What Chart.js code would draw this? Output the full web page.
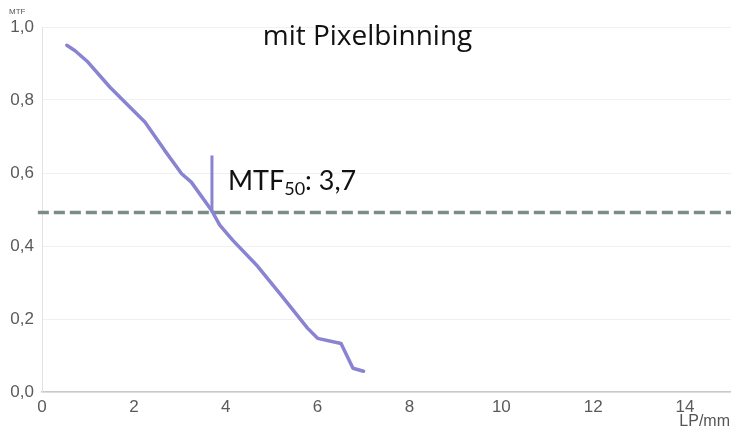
<!DOCTYPE html>
<html>
<head>
<meta charset="utf-8">
<script src="https://cdn.jsdelivr.net/npm/chart.js@4"></script>
<style>
html,body{margin:0;padding:0;background:#fff;}
#wrap{width:731px;height:430px;position:relative;}
</style>
</head>
<body>
<div id="wrap"><canvas id="c" width="731" height="430"></canvas></div>
<script>
// Data
const lpPerMm = [0.54, 0.72, 1.0, 1.48, 1.84, 2.24, 2.67, 3.04, 3.25, 3.69, 3.87, 4.15, 4.69, 5.21, 5.78, 6.0, 6.51, 6.77, 7.0];
const mtf     = [0.95, 0.935, 0.904, 0.835, 0.79, 0.74, 0.662, 0.598, 0.575, 0.498, 0.457, 0.416, 0.345, 0.265, 0.175, 0.147, 0.133, 0.065, 0.057];
const mtf50Level = 0.492;
const mtf50Value = 3.7;
const mtf50MarkerTop = 0.648;
const refLineX = [-0.09, 15];
const xTicks = [0, 2, 4, 6, 8, 10, 12, 14];
const yTicks = [0, 0.2, 0.4, 0.6, 0.8, 1.0];
const chartTitle = "mit Pixelbinning";
const yAxisTitle = "MTF";
const xAxisTitle = "LP/mm";
const annotationMain = "MTF";
const annotationSub = "50";
const annotationRest = ": 3,7";

const curve = lpPerMm.map((x, i) => ({x: x, y: mtf[i]}));
const refLine = refLineX.map(x => ({x: x, y: mtf50Level}));
const marker = [{x: mtf50Value, y: mtf50Level}, {x: mtf50Value, y: mtf50MarkerTop}];

const textPlugin = {
  id: 'texts',
  afterDraw(chart) {
    const ctx = chart.ctx;
    const xs = chart.scales.x, ys = chart.scales.y;
    ctx.save();
    // Title
    ctx.fillStyle = '#111';
    ctx.font = '28px "Open Sans", Lato, sans-serif';
    ctx.textAlign = 'center';
    ctx.textBaseline = 'alphabetic';
    ctx.fillText(chartTitle, chart.width / 2 + 2, 45);
    // Y axis title
    ctx.fillStyle = '#555';
    ctx.font = '8px "Liberation Sans", Arial, sans-serif';
    ctx.textAlign = 'left';
    ctx.fillText(yAxisTitle, 9, 14);
    // X axis title
    ctx.font = '16px "Liberation Sans", Arial, sans-serif';
    ctx.textAlign = 'right';
    ctx.fillText(xAxisTitle, chart.width - 1, 426);
    // Annotation
    const ax = xs.getPixelForValue(mtf50Value) + 16;
    const ay = ys.getPixelForValue(mtf50MarkerTop) + 35;
    ctx.fillStyle = '#111';
    ctx.textAlign = 'left';
    ctx.font = '27px Lato, "Open Sans", sans-serif';
    ctx.fillText(annotationMain, ax, ay);
    let w = ctx.measureText(annotationMain).width;
    ctx.font = '18px Lato, "Open Sans", sans-serif';
    ctx.fillText(annotationSub, ax + w, ay + 5);
    let w2 = ctx.measureText(annotationSub).width;
    ctx.font = '27px Lato, "Open Sans", sans-serif';
    ctx.fillText(annotationRest, ax + w + w2, ay);
    ctx.restore();
  }
};

new Chart(document.getElementById('c'), {
  type: 'scatter',
  data: {
    datasets: [
      {
        data: refLine, showLine: true, borderColor: '#7b8b89', borderWidth: 3.5,
        borderDash: [11, 5], pointRadius: 0, clip: false, order: 3
      },
      {
        data: curve, showLine: true, borderColor: '#8983d2', borderWidth: 3.5,
        pointRadius: 0, tension: 0, order: 1, borderJoinStyle: 'round', borderCapStyle: 'round'
      },
      {
        data: marker, showLine: true, borderColor: '#8983d2', borderWidth: 3,
        pointRadius: 0, order: 2
      }
    ]
  },
  options: {
    responsive: false,
    animation: false,
    layout: {padding: {top: 27, right: 0, left: 0, bottom: 0}},
    plugins: {legend: {display: false}, tooltip: {enabled: false}, title: {display: false}},
    scales: {
      x: {
        type: 'linear', min: 0, max: 15,
        afterBuildTicks(s) { s.ticks = xTicks.map(v => ({value: v})); },
        afterFit(s) { s.height = 38; },
        grid: {display: false, drawTicks: false},
        border: {display: true, color: '#c9c9c9', width: 1.5},
        ticks: {
          padding: 5, color: '#5a5a5a',
          font: {size: 17, family: '"Liberation Sans", Arial, sans-serif'},
          maxRotation: 0,
          callback: v => String(v)
        }
      },
      y: {
        type: 'linear', min: 0, max: 1,
        afterBuildTicks(s) { s.ticks = yTicks.map(v => ({value: v})); },
        afterFit(s) { s.width = 42; },
        grid: {color: '#f0f0f0', drawTicks: false, lineWidth: 1},
        border: {display: true, color: '#e2e2e2', width: 1},
        ticks: {
          padding: 8, color: '#5a5a5a',
          font: {size: 17, family: '"Liberation Sans", Arial, sans-serif'},
          callback: v => v.toFixed(1).replace('.', ',')
        }
      }
    }
  },
  plugins: [textPlugin]
});
</script>
</body>
</html>
